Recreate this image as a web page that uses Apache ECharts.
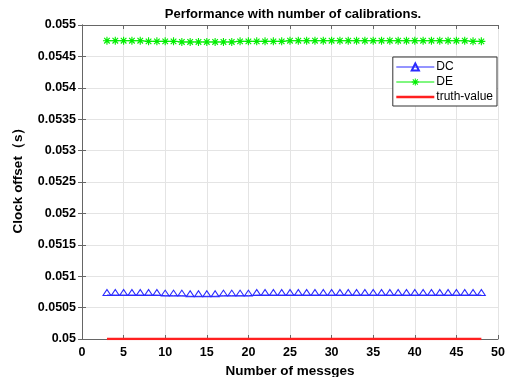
<!DOCTYPE html>
<html>
<head>
<meta charset="utf-8">
<script src="https://cdn.jsdelivr.net/npm/echarts@6/dist/echarts.min.js"></script>
<style>
  html, body { margin: 0; padding: 0; background: #fff; }
  #main { width: 510px; height: 377px; }
</style>
</head>
<body>
<div id="main"></div>
<script>
  // x values (number of messages)
  var msgs = [3, 4, 5, 6, 7, 8, 9, 10, 11, 12, 13, 14, 15, 16, 17, 18, 19, 20, 21, 22, 23, 24, 25,
              26, 27, 28, 29, 30, 31, 32, 33, 34, 35, 36, 37, 38, 39, 40, 41, 42, 43, 44, 45, 46, 47, 48];

  var dcVals = [0.05070, 0.05070, 0.05070, 0.05070, 0.05070, 0.05070, 0.05070, 0.05069, 0.05069, 0.05069,
                0.05068, 0.05068, 0.05068, 0.05068, 0.05069, 0.05069, 0.05069, 0.05069, 0.05070, 0.05070,
                0.05070, 0.05070, 0.05070, 0.05070, 0.05070, 0.05070, 0.05070, 0.05070, 0.05070, 0.05070,
                0.05070, 0.05070, 0.05070, 0.05070, 0.05070, 0.05070, 0.05070, 0.05070, 0.05070, 0.05070,
                0.05070, 0.05070, 0.05070, 0.05070, 0.05070, 0.05070];

  var deVals = [0.05475, 0.05475, 0.05475, 0.05475, 0.05475, 0.05474, 0.05474, 0.05474, 0.05474, 0.05473,
                0.05473, 0.05473, 0.05473, 0.05473, 0.05473, 0.05473, 0.05474, 0.05474, 0.05474, 0.05474,
                0.05474, 0.05474, 0.05475, 0.05475, 0.05475, 0.05475, 0.05475, 0.05475, 0.05475, 0.05475,
                0.05475, 0.05475, 0.05475, 0.05475, 0.05475, 0.05475, 0.05475, 0.05475, 0.05475, 0.05475,
                0.05475, 0.05475, 0.05475, 0.05475, 0.05474, 0.05474];

  var truthVals = [0.05, 0.05, 0.05, 0.05, 0.05, 0.05, 0.05, 0.05, 0.05, 0.05, 0.05, 0.05, 0.05, 0.05, 0.05, 0.05,
                   0.05, 0.05, 0.05, 0.05, 0.05, 0.05, 0.05, 0.05, 0.05, 0.05, 0.05, 0.05, 0.05, 0.05, 0.05, 0.05,
                   0.05, 0.05, 0.05, 0.05, 0.05, 0.05, 0.05, 0.05, 0.05, 0.05, 0.05, 0.05, 0.05, 0.05];

  var seriesNames = ['DC', 'DE', 'truth-value'];

  function pairs(vals) {
    return msgs.map(function (m, i) { return [m, vals[i]]; });
  }

  var chart = echarts.init(document.getElementById('main'));
  var font = 'Liberation Sans, Arial, sans-serif';
  var axisCol = '#666';
  // asterisk marker built from four filled bars (same winding so overlaps stay filled)
  var starPath = 'path://M4.3 0L5.7 0L5.7 10L4.3 10Z' +
                 'M0 4.3L10 4.3L10 5.7L0 5.7Z' +
                 'M1 2L2 1L9 8L8 9Z' +
                 'M8 1L9 2L2 9L1 8Z';

  var option = {
    animation: false,
    backgroundColor: '#fff',
    title: {
      text: 'Performance with number of calibrations.',
      left: 288,
      textAlign: 'center',
      top: 3,
      textStyle: { fontFamily: font, fontSize: 13, fontWeight: 'bold', color: '#000' }
    },
    grid: { left: 82, right: 12, top: 25, bottom: 38, outerBoundsMode: 'none', containLabel: false },
    legend: {
      data: [
        { name: seriesNames[0] },
        { name: seriesNames[1] },
        { name: seriesNames[2], icon: 'path://M0 0L38 0L38 2.5L0 2.5Z' }
      ],
      orient: 'vertical',
      right: 13,
      top: 57,
      backgroundColor: '#fff',
      borderColor: '#333',
      borderWidth: 1,
      borderRadius: 0,
      padding: [4, 4, 3, 3],
      itemGap: 3,
      itemWidth: 38,
      itemHeight: 9,
      lineStyle: { width: 1 },
      textStyle: { fontFamily: font, fontSize: 12, color: '#000', padding: [0, 0, 0, -3] }
    },
    xAxis: [{
      type: 'value',
      min: 0, max: 50, interval: 5,
      name: 'Number of messges',
      nameLocation: 'middle',
      nameGap: 24,
      nameTextStyle: { fontFamily: font, fontSize: 13.5, fontWeight: 'bold', color: '#000' },
      axisLine: { lineStyle: { color: axisCol } },
      axisTick: { inside: true, length: 4, lineStyle: { color: axisCol } },
      axisLabel: { fontFamily: font, fontSize: 12.5, fontWeight: 'bold', color: '#000', margin: 7 },
      splitLine: { show: true, lineStyle: { color: '#e4e4e4' } }
    }, {
      type: 'value',
      position: 'top',
      min: 0, max: 50, interval: 5,
      axisLine: { show: true, lineStyle: { color: axisCol } },
      axisTick: { show: true, inside: true, length: 4, lineStyle: { color: axisCol } },
      axisLabel: { show: false },
      splitLine: { show: false }
    }],
    yAxis: [{
      type: 'value',
      min: 0.05, max: 0.055, interval: 0.0005,
      name: 'Clock offset（s）',
      nameLocation: 'middle',
      nameGap: 57,
      nameTextStyle: { fontFamily: font, fontSize: 13.5, fontWeight: 'bold', color: '#000', padding: [0, 0, 0, 10] },
      axisLine: { show: true, lineStyle: { color: axisCol } },
      axisTick: { show: true, inside: true, length: 4, lineStyle: { color: axisCol } },
      axisLabel: {
        fontFamily: font, fontSize: 12.5, fontWeight: 'bold', color: '#000', margin: 6,
        formatter: function (v) { return String(+v.toFixed(4)); }
      },
      splitLine: { show: true, lineStyle: { color: '#e4e4e4' } }
    }, {
      type: 'value',
      position: 'right',
      min: 0.05, max: 0.055, interval: 0.0005,
      axisLine: { show: true, lineStyle: { color: axisCol } },
      axisTick: { show: true, inside: true, length: 4, lineStyle: { color: axisCol } },
      axisLabel: { show: false },
      splitLine: { show: false }
    }],
    series: [{
      name: seriesNames[0],
      type: 'line',
      data: pairs(dcVals),
      symbol: 'triangle',
      symbolSize: [8, 6],
      symbolOffset: [0, -2.5],
      showAllSymbol: true,
      itemStyle: { color: 'rgba(255,255,255,0)', borderColor: '#2a2aff', borderWidth: 1 },
      lineStyle: { color: '#2a2aff', width: 1 },
      emphasis: { disabled: true }
    }, {
      name: seriesNames[1],
      type: 'line',
      data: pairs(deVals),
      symbol: starPath,
      symbolSize: 8,
      showAllSymbol: true,
      itemStyle: { color: '#00ee00' },
      lineStyle: { color: '#00ee00', width: 1 },
      emphasis: { disabled: true }
    }, {
      name: seriesNames[2],
      type: 'line',
      data: pairs(truthVals),
      symbol: 'none',
      itemStyle: { color: '#ff2020' },
      lineStyle: { color: '#ff2020', width: 2.5 },
      emphasis: { disabled: true }
    }]
  };

  chart.setOption(option);
</script>
</body>
</html>
